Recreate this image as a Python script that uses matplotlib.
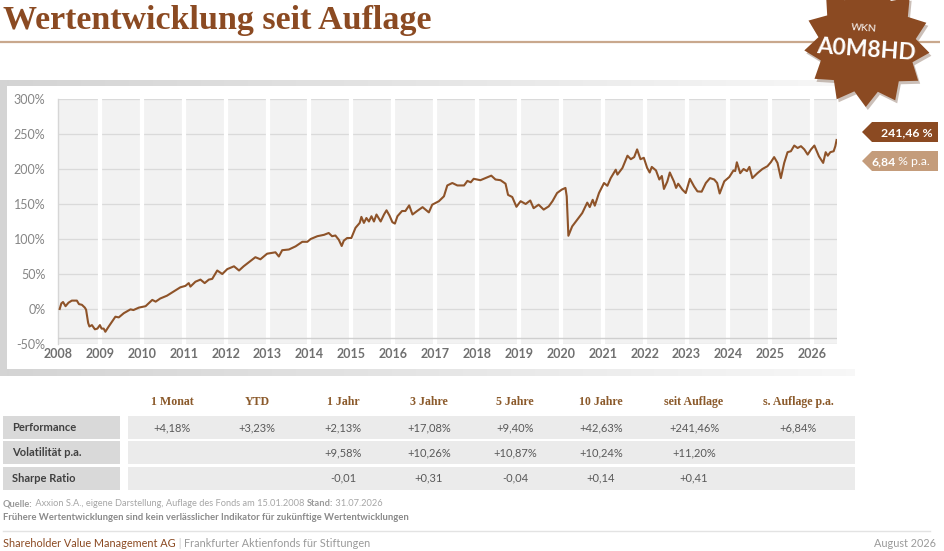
import matplotlib
matplotlib.use("Agg")
import matplotlib.pyplot as plt
import numpy as np
from matplotlib.patches import Polygon, Rectangle

# ---------------- data ----------------
TIME = [2008.04, 2008.08, 2008.12, 2008.18, 2008.25, 2008.33, 2008.45, 2008.50, 2008.57, 2008.64,
        2008.67, 2008.72, 2008.75, 2008.81, 2008.88, 2008.94, 2009.00, 2009.04, 2009.09, 2009.13,
        2009.21, 2009.29, 2009.37, 2009.45, 2009.57, 2009.73, 2009.80, 2009.93, 2010.09, 2010.25,
        2010.33, 2010.44, 2010.60, 2010.76, 2010.92, 2011.04, 2011.12, 2011.16, 2011.28, 2011.40,
        2011.50, 2011.60, 2011.68, 2011.80, 2011.92, 2012.04, 2012.20, 2012.32, 2012.43, 2012.55,
        2012.71, 2012.83, 2012.99, 2013.19, 2013.27, 2013.35, 2013.51, 2013.67, 2013.83, 2013.95,
        2014.03, 2014.19, 2014.35, 2014.46, 2014.54, 2014.62, 2014.70, 2014.77, 2014.82, 2014.90,
        2015.00, 2015.10, 2015.20, 2015.24, 2015.30, 2015.36, 2015.42, 2015.48, 2015.54, 2015.60,
        2015.70, 2015.78, 2015.84, 2015.91, 2015.98, 2016.04, 2016.10, 2016.21, 2016.29, 2016.38,
        2016.46, 2016.57, 2016.70, 2016.85, 2016.93, 2017.09, 2017.21, 2017.29, 2017.41, 2017.53,
        2017.69, 2017.77, 2017.85, 2017.92, 2018.08, 2018.20, 2018.34, 2018.44, 2018.56, 2018.68,
        2018.74, 2018.84, 2018.94, 2019.04, 2019.16, 2019.27, 2019.35, 2019.47, 2019.59, 2019.71,
        2019.80, 2019.91, 2020.02, 2020.11, 2020.14, 2020.18, 2020.27, 2020.39, 2020.51, 2020.63,
        2020.69, 2020.76, 2020.81, 2020.91, 2021.03, 2021.11, 2021.19, 2021.31, 2021.35, 2021.47,
        2021.59, 2021.67, 2021.75, 2021.82, 2021.90, 2021.98, 2022.06, 2022.12, 2022.17, 2022.27,
        2022.35, 2022.41, 2022.46, 2022.54, 2022.60, 2022.70, 2022.75, 2022.80, 2022.90, 2022.98,
        2023.08, 2023.18, 2023.26, 2023.36, 2023.46, 2023.56, 2023.66, 2023.73, 2023.79, 2023.90,
        2024.02, 2024.12, 2024.16, 2024.20, 2024.28, 2024.36, 2024.44, 2024.50, 2024.57, 2024.69,
        2024.81, 2024.93, 2025.01, 2025.09, 2025.17, 2025.25, 2025.33, 2025.41, 2025.49, 2025.57,
        2025.65, 2025.73, 2025.81, 2025.89, 2025.97, 2026.05, 2026.16, 2026.26, 2026.32, 2026.37,
        2026.43, 2026.51, 2026.55, 2026.58]
VALUE = [0, 8, 10, 4, 9, 12, 12, 7, 6, 2,
         -1, -20, -25, -23, -29, -28, -23, -28, -28, -32.5,
         -25, -18, -11, -12, -6, -0.5, -1.5, 2, 4, 13,
         10.5, 15, 19, 25, 31, 33, 37, 32, 39, 42,
         37, 42, 43, 55, 50, 57, 61, 55, 61, 66.5,
         74, 71, 79, 81, 75, 84, 85, 89.5, 96, 96,
         100, 104, 106, 108.6, 104, 105, 99, 90, 97.6, 101.4,
         101.4, 116, 123, 131.6, 123, 130, 125, 132.5, 125, 135,
         125, 135, 141, 133.5, 124, 122, 132.5, 140, 140, 148,
         135, 140, 145.5, 138, 149, 154, 161, 176.5, 180, 176.5,
         176.5, 183, 181, 186, 184, 187, 190.5, 185, 184, 179,
         163, 160, 146, 154, 150, 155, 144, 149, 142, 146.6,
         154, 165.7, 170.5, 173, 161, 104.6, 118, 127.5, 137, 152,
         145.6, 156, 147.6, 165.7, 180, 176, 187, 199, 192, 201.5,
         219, 214, 217, 228, 214, 216, 201.5, 195, 203, 198,
         185, 190, 171.5, 182, 195, 182, 173, 179, 170.5, 165.7,
         186, 175, 168, 167.6, 180, 187, 185, 180, 165, 182.4,
         188.6, 198, 197, 209.6, 194, 200, 197, 203, 187, 194,
         200, 204, 209.6, 217, 208.7, 187, 208.7, 224, 225.4, 233.5,
         230, 232.6, 228, 220.6, 228, 233.5, 218, 208.7, 224, 219,
         224, 225.4, 232.6, 241.46]

YEARS = list(range(2008, 2027))
Y_TICKS = [-50, 0, 50, 100, 150, 200, 250, 300]

TOTAL_LABEL = "241,46 %"
PA_LABEL = "6,84"

COLUMNS = ["1 Monat", "YTD", "1 Jahr", "3 Jahre", "5 Jahre", "10 Jahre", "seit Auflage", "s. Auflage p.a."]
ROWS = ["Performance", "Volatilität p.a.", "Sharpe Ratio"]
PERFORMANCE = ["+4,18%", "+3,23%", "+2,13%", "+17,08%", "+9,40%", "+42,63%", "+241,46%", "+6,84%"]
VOLATILITY = ["", "", "+9,58%", "+10,26%", "+10,87%", "+10,24%", "+11,20%", ""]
SHARPE = ["", "", "-0,01", "+0,31", "-0,04", "+0,14", "+0,41", ""]

# ---------------- styling ----------------
BROWN = "#8B4A22"
LINE = "#8E5329"
TAN = "#C49C7B"
SANS = ["Lato", "DejaVu Sans"]
SERIF = ["Liberation Serif", "DejaVu Serif"]
plt.rcParams["font.family"] = SANS

W, H = 945, 551
fig = plt.figure(figsize=(W / 100, H / 100), dpi=100)
fig.patch.set_facecolor("white")

bg = fig.add_axes([0, 0, 1, 1], zorder=0)
bg.set_autoscale_on(False)
bg.set_xlim(0, W)
bg.set_ylim(H, 0)
bg.axis("off")

# title + rule
bg.text(3, 29, "Wertentwicklung seit Auflage", family=SERIF, fontweight="bold",
        fontsize=24.5, color=BROWN, ha="left", va="baseline")
bg.plot([0, 940], [42, 42], color="#C9A88D", lw=1.6, solid_capstyle="butt")

# chart frame (grey shadow fading to the right)
g = np.linspace(0, 1, 400)
c0 = np.array([0.83, 0.83, 0.83])
c1 = np.array([0.97, 0.97, 0.97])
strip = (c0[None, :] * (1 - g[:, None]) + c1[None, :] * g[:, None])[None, :, :]
bg.imshow(strip, extent=(0, 855, 86, 80), aspect="auto", interpolation="bilinear", zorder=1)
bg.imshow(strip, extent=(0, 855, 376, 369), aspect="auto", interpolation="bilinear", zorder=1)
bg.add_patch(Rectangle((0, 80), 7, 296, color="#d4d4d4", lw=0, zorder=1))

# badge (seal)
n = 13
ang = np.linspace(0, 2 * np.pi, 2 * n, endpoint=False) + np.deg2rad(8)
rad = np.where(np.arange(2 * n) % 2 == 0, 63, 49)
cx, cy = 867, 44
bg.add_patch(Polygon(np.c_[cx + 2 + rad * np.cos(ang), cy + 3 + rad * np.sin(ang)],
                     closed=True, color="#6b4a35", alpha=0.35, lw=0, zorder=2))
bg.add_patch(Polygon(np.c_[cx + rad * np.cos(ang), cy + rad * np.sin(ang)],
                     closed=True, color=BROWN, lw=0, zorder=3))
bg.text(864, 28, "WKN", color="white", fontsize=7.5, ha="center", va="center", rotation=-4, zorder=4)
bg.text(866, 50, "A0M8HD", color="white", fontsize=16.5, fontweight="bold", ha="center",
        va="center", rotation=-4, zorder=4)

# right side tags
bg.add_patch(Polygon([(862, 132), (872, 122), (938, 122), (938, 142), (872, 142)],
                     closed=True, color=BROWN, lw=0, zorder=3))
bg.text(933, 132.5, TOTAL_LABEL, color="white", fontsize=8.8, fontweight="bold",
        ha="right", va="center", zorder=4)
bg.add_patch(Polygon([(862, 161), (872, 151), (938, 151), (938, 171), (872, 171)],
                     closed=True, color=TAN, lw=0, zorder=3))
t1 = bg.text(871, 161.5, PA_LABEL, color="white", fontsize=8.8, fontweight="bold",
             ha="left", va="center", zorder=4)
bg.annotate(" % p.a.", xycoords=t1, xy=(1, 0.5), va="center", ha="left",
            color="white", fontsize=8.8, zorder=4)

# ---------------- chart ----------------
ax = fig.add_axes([58 / W, 1 - 344 / H, (837 - 58) / W, (344 - 99) / H], zorder=1)
ax.set_facecolor("#f2f2f2")
ax.set_xlim(2008, 2026.59)
ax.set_ylim(-50, 300)
for v in Y_TICKS:
    ax.axhline(v, color="#dadada", lw=0.9, zorder=1)
for yr in YEARS[1:]:
    ax.axvline(yr, color="white", lw=3.0, zorder=2)
ax.axhline(-41, color="#cfcfcf", lw=1.0, zorder=3)
ax.plot(TIME, VALUE, color=LINE, lw=1.5, zorder=4, solid_joinstyle="round")

ax.set_yticks(Y_TICKS)
ax.set_yticklabels([f"{v}%" for v in Y_TICKS], color="#858585", fontsize=9)
ax.set_xticks(YEARS)
ax.set_xticklabels([str(y) for y in YEARS], color="#707070", fontsize=9, fontweight="bold")
ax.tick_params(axis="y", length=0, pad=9)
ax.tick_params(axis="x", length=0, pad=3)
for s in ["top", "right", "bottom"]:
    ax.spines[s].set_visible(False)
ax.spines["left"].set_color("#d6d6d6")
ax.spines["left"].set_linewidth(1)

# ---------------- table ----------------
col_x = [172, 257, 343, 429, 515, 601, 694, 798]
for x, c in zip(col_x, COLUMNS):
    bg.text(x, 402, c, family=SERIF, fontweight="bold", fontsize=8.6, color="#8B5A2B",
            ha="center", va="center")
row_y = [(416, 439), (441, 464), (466.5, 490)]
for (y0, y1), name, vals in zip(row_y, ROWS, [PERFORMANCE, VOLATILITY, SHARPE]):
    bg.add_patch(Rectangle((3, y0), 117, y1 - y0, color="#d9d9d9", lw=0))
    bg.add_patch(Rectangle((128, y0), 727, y1 - y0, color="#ebebeb", lw=0))
    ym = (y0 + y1) / 2
    bg.text(12, ym, name, fontweight="bold", fontsize=8, color="#404040", ha="left", va="center")
    for x, v in zip(col_x, vals):
        if v:
            bg.text(x, ym, v, fontsize=8, color="#595959", ha="center", va="center")

# ---------------- footer ----------------
def chain(x, y, parts, size):
    prev = None
    for txt, weight, color in parts:
        if prev is None:
            prev = bg.text(x, y, txt, fontsize=size, fontweight=weight, color=color,
                           ha="left", va="baseline")
        else:
            prev = bg.annotate(txt, xycoords=prev, xy=(1, 0), va="bottom", ha="left",
                               fontsize=size, fontweight=weight, color=color)

chain(3, 506, [("Quelle:", "bold", "#9a9a9a"),
               (" Axxion S.A., eigene Darstellung, Auflage des Fonds am 15.01.2008 ", "normal", "#a6a6a6"),
               ("Stand:", "bold", "#9a9a9a"),
               (" 31.07.2026", "normal", "#a6a6a6")], 6.7)
bg.text(3, 520, "Frühere Wertentwicklungen sind kein verlässlicher Indikator für zukünftige Wertentwicklungen",
        fontsize=6.8, fontweight="bold", color="#8a8a8a", ha="left", va="baseline")
bg.plot([3, 930], [530.5, 530.5], color="#e3e3e3", lw=1)
chain(3, 547, [("Shareholder Value Management AG", "normal", BROWN),
               (" | ", "normal", "#c8c8c8"),
               ("Frankfurter Aktienfonds für Stiftungen", "normal", "#9a9a9a")], 7.8)
bg.text(936, 547, "August 2026", fontsize=7.8, color="#9a9a9a", ha="right", va="baseline")

fig.savefig("out.png", dpi=100, facecolor="white")
